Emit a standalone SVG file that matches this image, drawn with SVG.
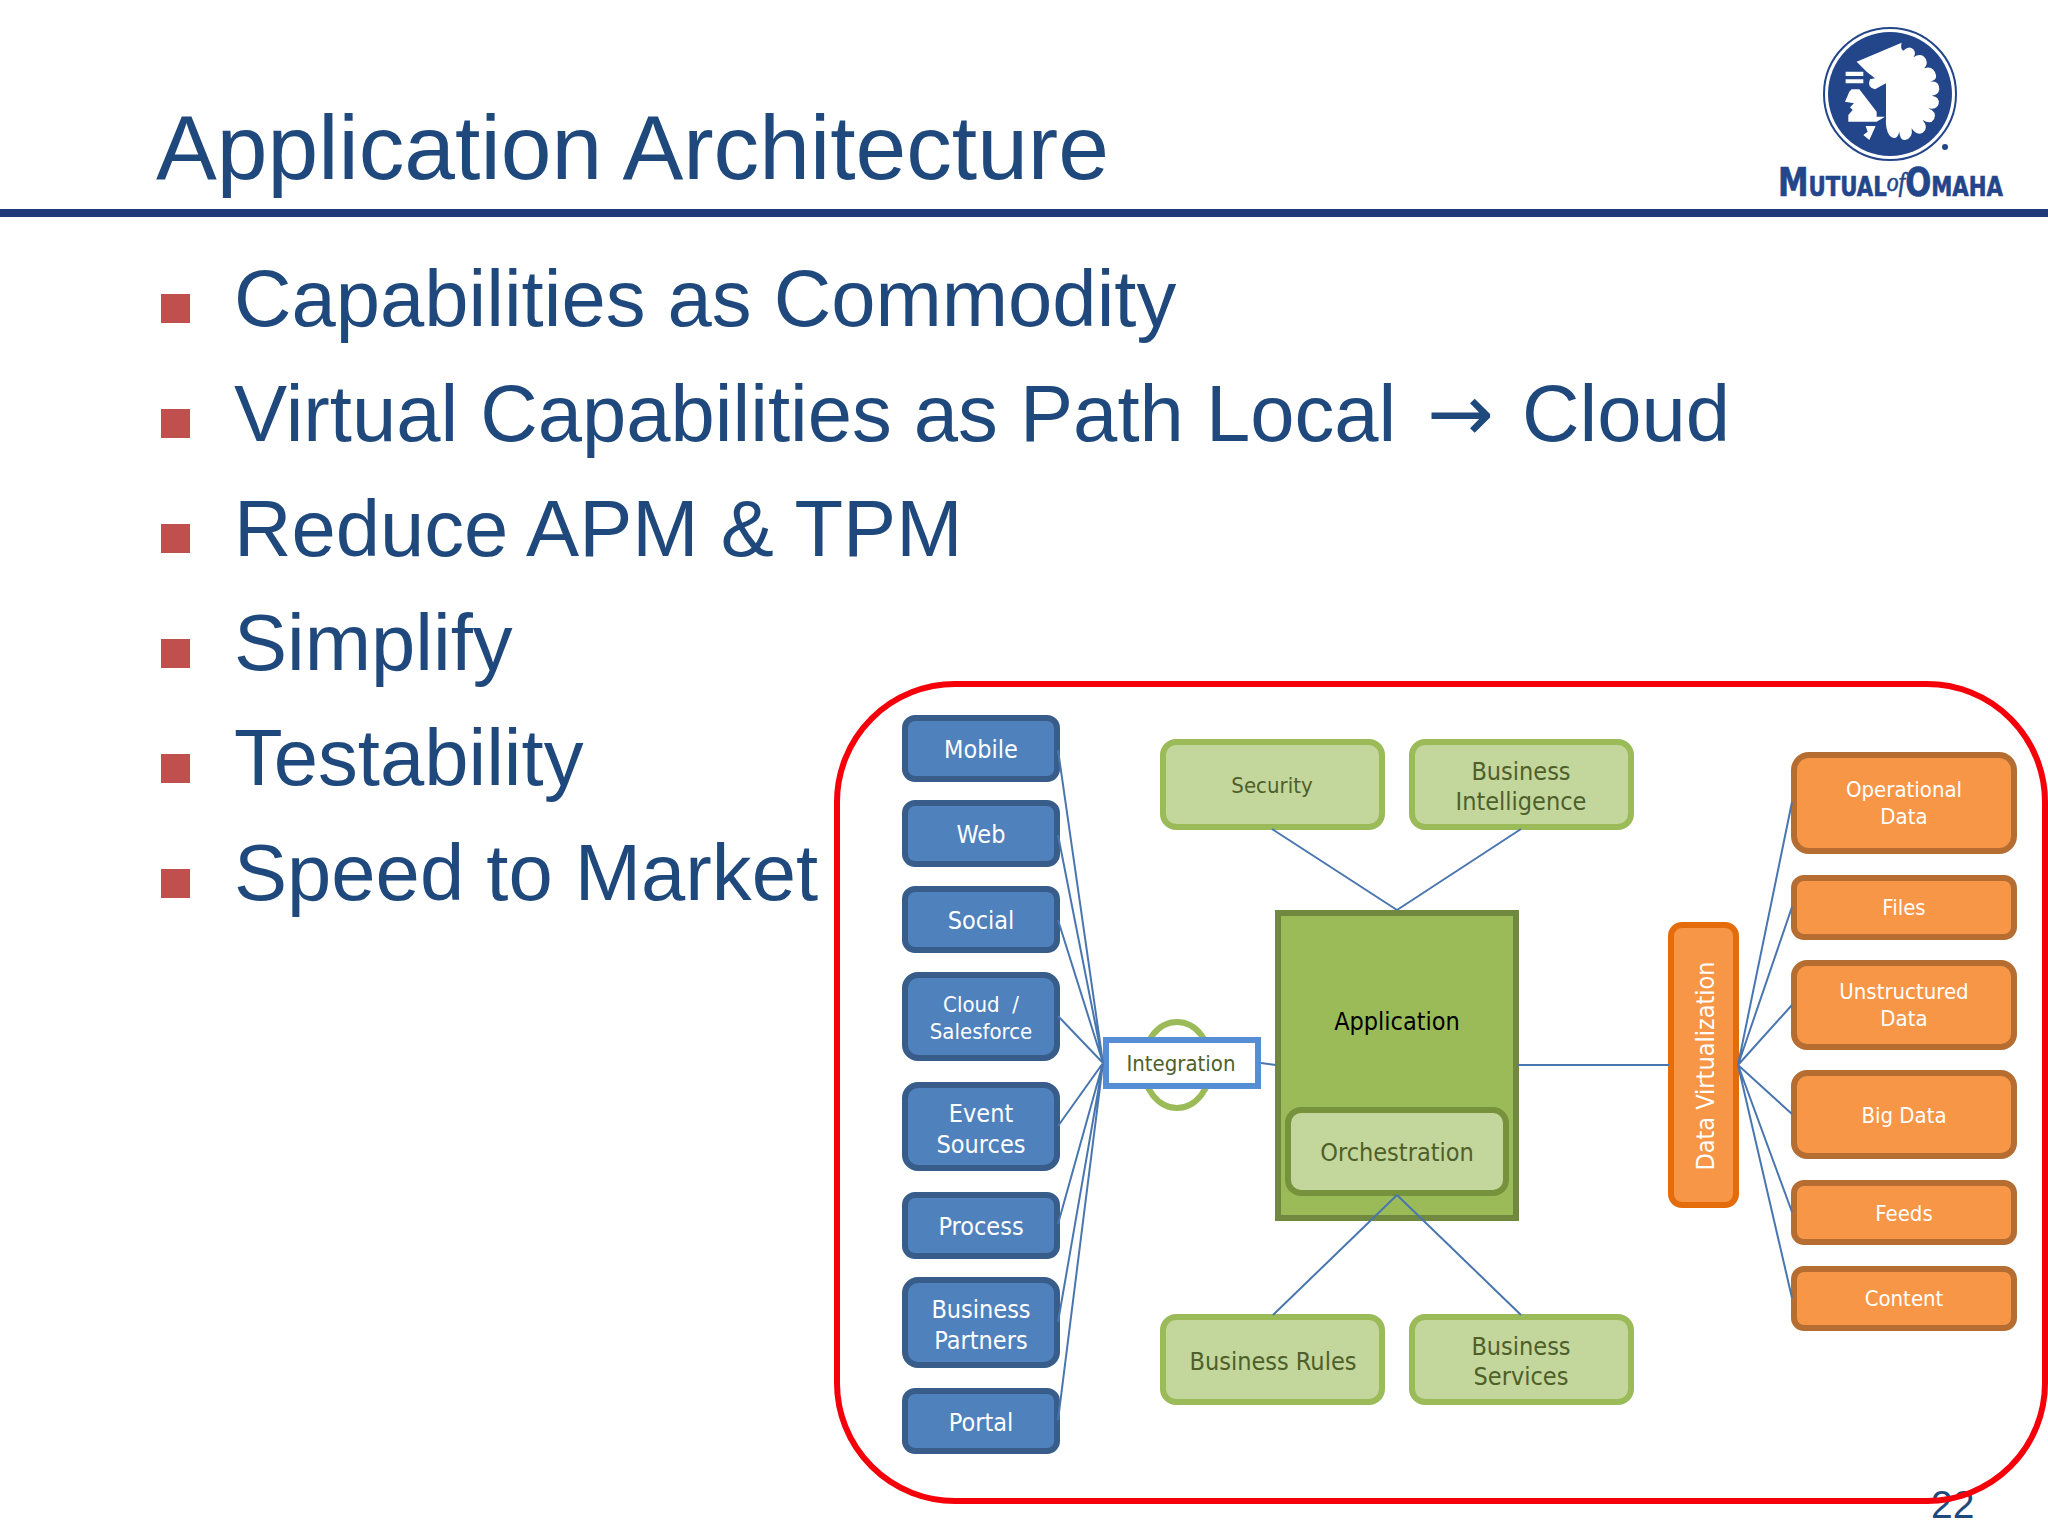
<svg xmlns="http://www.w3.org/2000/svg" width="2048" height="1536" viewBox="0 0 2048 1536">
<style>
.t{font-family:"Liberation Sans",Arial,sans-serif;fill:#1f497d}
.b{font-size:79.6px}
.s{fill:#c0504d}
.d{font-family:"DejaVu Sans Condensed","DejaVu Sans",sans-serif;font-size:25px;text-anchor:middle}
.m{font-size:22px}
.w{fill:#fff}
.g{fill:#4f5f2a}
.blue{fill:#4f81bd;stroke:#385d8a;stroke-width:6}
.green{fill:#c3d69b;stroke:#9bbb59;stroke-width:6}
.or{fill:#f79646;stroke:#b66d31;stroke-width:6}
.c{stroke:#4a76b0;stroke-width:2;fill:none}
.l{font-family:"DejaVu Sans Condensed","DejaVu Sans",sans-serif;font-weight:700;fill:#23458a;stroke:#23458a;stroke-width:.6}
</style>
<rect width="2048" height="1536" fill="#fff"/>
<g id="header">
<text class="t" x="156" y="179" font-size="91.2">Application Architecture</text>
<rect x="0" y="209" width="2048" height="8" fill="#1f3a78"/>
</g>
<g id="logo">
<circle cx="1890" cy="94" r="66" fill="#fff" stroke="#23458a" stroke-width="2"/>
<circle cx="1890" cy="94" r="62" fill="#23458a"/>
<g transform="translate(1700,0) scale(.3333)" fill="#fff">
<path d="M470 185L605 128Q600 145 610 152Q628 135 640 148Q650 160 640 172Q665 155 678 178Q685 195 672 205Q700 195 708 225Q712 240 690 245Q718 240 718 268Q716 285 695 287Q720 290 716 312Q710 330 685 325Q712 335 702 358Q692 375 668 360Q688 385 668 398Q650 408 635 385Q640 415 615 420Q600 422 598 395Q590 425 570 408Q555 390 558 350L558 250L525 268Q500 262 510 238L525 235L500 215Z"/>
<path d="M437 215H490V228H437ZM437 238H490V250H437Z"/>
<path d="M455 268H478L530 335V350H555L530 365H445V345L458 330L450 322L462 310L435 305L448 275Z"/>
<path d="M497 378H527L508 420L490 405L503 395Z"/>
</g>
<circle cx="1945" cy="147" r="3" fill="#23458a"/>
<text class="l" x="1778" y="196" textLength="225" lengthAdjust="spacingAndGlyphs"><tspan font-size="39">M</tspan><tspan font-size="27">UTUAL</tspan><tspan font-family="Liberation Serif,serif" font-style="italic" font-weight="400" font-size="27" dy="-5">of</tspan><tspan font-size="39" dy="5">O</tspan><tspan font-size="27">MAHA</tspan></text>
</g>
<g id="bullets">
<rect class="s" x="161" y="294" width="29" height="29"/>
<rect class="s" x="161" y="409" width="29" height="29"/>
<rect class="s" x="161" y="524" width="29" height="29"/>
<rect class="s" x="161" y="639" width="29" height="29"/>
<rect class="s" x="161" y="754" width="29" height="29"/>
<rect class="s" x="161" y="869" width="29" height="29"/>
<text class="t b" x="234" y="326">Capabilities as Commodity</text>
<text class="t b" x="234" y="441">Virtual Capabilities as Path Local <tspan x="1427" font-family="DejaVu Sans" font-size="80">→</tspan> <tspan x="1522">Cloud</tspan></text>
<text class="t b" x="234" y="556">Reduce APM &amp; TPM</text>
<text class="t b" x="234" y="670">Simplify</text>
<text class="t b" x="234" y="785">Testability</text>
<text class="t b" x="234" y="900">Speed to Market</text>
</g>
<g id="page"><text class="t" x="1931" y="1518" font-size="39">22</text></g>
<rect id="highlight" x="837" y="684" width="1208" height="817" rx="118" fill="none" stroke="#f5000a" stroke-width="6"/>
<ellipse id="ring" cx="1177" cy="1065" rx="34" ry="43" fill="none" stroke="#9bbb59" stroke-width="6"/>
<g id="mobile"><rect class="blue" x="905" y="718" width="152" height="61" rx="10"/><text class="d w" x="981" y="758">Mobile</text></g>
<g id="web"><rect class="blue" x="905" y="803" width="152" height="61" rx="10"/><text class="d w" x="981" y="843">Web</text></g>
<g id="social"><rect class="blue" x="905" y="889" width="152" height="61" rx="10"/><text class="d w" x="981" y="929">Social</text></g>
<g id="cloud"><rect class="blue" x="905" y="975" width="152" height="83" rx="13"/><text class="d w m" x="981" y="1012" xml:space="preserve">Cloud  /</text><text class="d w m" x="981" y="1039">Salesforce</text></g>
<g id="event"><rect class="blue" x="905" y="1085" width="152" height="83" rx="13"/><text class="d w" x="981" y="1122">Event</text><text class="d w" x="981" y="1153">Sources</text></g>
<g id="process"><rect class="blue" x="905" y="1195" width="152" height="61" rx="10"/><text class="d w" x="981" y="1235">Process</text></g>
<g id="partners"><rect class="blue" x="905" y="1280" width="152" height="85" rx="13"/><text class="d w" x="981" y="1318">Business</text><text class="d w" x="981" y="1349">Partners</text></g>
<g id="portal"><rect class="blue" x="905" y="1391" width="152" height="60" rx="10"/><text class="d w" x="981" y="1431">Portal</text></g>
<g id="integration"><rect x="1106" y="1040" width="152" height="46" fill="#fff" stroke="#558ed5" stroke-width="6"/><text class="d m g" x="1181" y="1071">Integration</text></g>
<g id="security"><rect class="green" x="1163" y="742" width="219" height="85" rx="13"/><text class="d m g" x="1272" y="793">Security</text></g>
<g id="bi"><rect class="green" x="1412" y="742" width="219" height="85" rx="13"/><text class="d g" x="1521" y="780">Business</text><text class="d g" x="1521" y="810">Intelligence</text></g>
<g id="application"><rect x="1278" y="913" width="238" height="305" fill="#9bbb59" stroke="#71893f" stroke-width="6"/><text class="d" x="1397" y="1030" fill="#000">Application</text></g>
<g id="orchestration"><rect class="green" x="1288" y="1110" width="218" height="83" rx="13" style="stroke:#76923c"/><text class="d g" x="1397" y="1161">Orchestration</text></g>
<g id="rules"><rect class="green" x="1163" y="1317" width="219" height="85" rx="13"/><text class="d g" x="1273" y="1370">Business Rules</text></g>
<g id="services"><rect class="green" x="1412" y="1317" width="219" height="85" rx="13"/><text class="d g" x="1521" y="1355">Business</text><text class="d g" x="1521" y="1385">Services</text></g>
<g id="dv"><rect x="1671" y="925" width="65" height="280" rx="11" fill="#f79646" stroke="#e46c0a" stroke-width="6"/><text class="d w" transform="translate(1714,1066) rotate(-90)">Data Virtualization</text></g>
<g id="operational"><rect class="or" x="1794" y="755" width="220" height="96" rx="15"/><text class="d w m" x="1904" y="797">Operational</text><text class="d w m" x="1904" y="824">Data</text></g>
<g id="files"><rect class="or" x="1794" y="878" width="220" height="59" rx="10"/><text class="d w m" x="1904" y="915">Files</text></g>
<g id="unstructured"><rect class="or" x="1794" y="963" width="220" height="84" rx="13"/><text class="d w m" x="1904" y="999">Unstructured</text><text class="d w m" x="1904" y="1026">Data</text></g>
<g id="bigdata"><rect class="or" x="1794" y="1073" width="220" height="83" rx="13"/><text class="d w m" x="1904" y="1123">Big Data</text></g>
<g id="feeds"><rect class="or" x="1794" y="1183" width="220" height="59" rx="10"/><text class="d w m" x="1904" y="1221">Feeds</text></g>
<g id="content"><rect class="or" x="1794" y="1269" width="220" height="59" rx="10"/><text class="d w m" x="1904" y="1306">Content</text></g>
<g id="connectors" class="c">
<path d="M1058 750L1103 1063M1058 835L1103 1063M1058 920L1103 1063M1058 1016L1103 1063M1058 1126L1103 1063M1058 1224L1103 1063M1058 1322L1103 1063M1058 1420L1103 1063"/>
<path d="M1261 1063L1276 1065M1518 1065H1669"/>
<path d="M1272 829L1397 910M1521 829L1397 910M1397 1195L1273 1315M1397 1195L1521 1315"/>
<path d="M1738 1065L1792 802M1738 1065L1792 907M1738 1065L1792 1005M1738 1065L1792 1114M1738 1065L1792 1212M1738 1065L1792 1298"/>
</g>
</svg>
